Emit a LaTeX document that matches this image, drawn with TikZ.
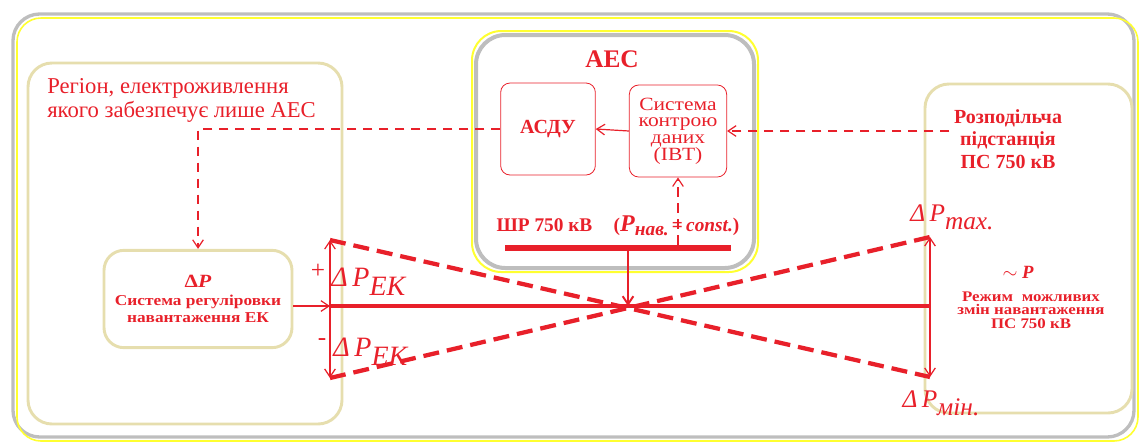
\documentclass[tikz,border=0pt]{standalone}
\usepackage{fontspec}
\setmainfont{Liberation Serif}
\newfontfamily\widefont[FakeStretch=1.15]{Liberation Serif}
\usetikzlibrary{arrows.meta}
\definecolor{aesred}{HTML}{E8202A}
\definecolor{sand}{HTML}{E6DEAE}
\definecolor{frameg}{HTML}{BEBEBE}
\definecolor{framey}{HTML}{FFFF30}
\newcommand{\dP}[1]{\textit{Δ\,P}\raisebox{-.7ex}{\textit{#1}}}

\begin{document}
\begin{tikzpicture}[x=0.75pt,y=-0.75pt,
  every node/.style={text=aesred,align=center},
  sandbox/.style={draw=sand,line width=2.2pt,rounded corners=18pt},
  redbox/.style={draw=aesred,line width=0.6pt,rounded corners=7pt,minimum width=71pt,minimum height=69pt},
  thinline/.style={aesred,line width=0.9pt},
  barb/.style={-{Straight Barb[length=6pt,width=8pt]}},
  link/.style={aesred,line width=0.9pt,dash pattern=on 7pt off 5pt},
  swing/.style={aesred,line width=3.2pt,dash pattern=on 12pt off 6pt}]
\useasboundingbox (0,0) rectangle (1142,444);
% frames
\draw[frameg,line width=2.5pt,rounded corners=20pt] (13,14) rectangle (1134,437);
\draw[framey,line width=1.2pt,rounded corners=18pt] (17,18) rectangle (1138,441);
\draw[sandbox] (28,63) rectangle (342,424);
\draw[sandbox] (925,84) rectangle (1132,413);
\draw[framey,line width=1.5pt,rounded corners=22pt] (472,31) rectangle (758,272);
\draw[frameg,line width=3pt,rounded corners=22pt] (476,35) rectangle (754,268);

\node[anchor=north west,align=left,inner sep=0pt,font=\rmfamily\fontsize{17}{18}\selectfont] (regiontitle) at (47,78) {Регіон, електроживлення\\ якого забезпечує лише АЕС};
\node[sandbox,rounded corners=15pt,minimum width=141pt,minimum height=73pt,font=\widefont\bfseries\fontsize{11.3}{13}\selectfont] (ek) at (198,299) {{\fontsize{14}{14}\selectfont\textbf{Δ}\textit{P}}\\ Система регуліровки\\ навантаження ЕК};
\node[font=\bfseries\fontsize{19}{22}\selectfont] (aestitle) at (612,59) {АЕС};
\node[redbox,font=\bfseries\fontsize{15}{18}\selectfont] (asdu) at (548,129) {АСДУ};
\node[redbox,minimum width=73pt,inner sep=1pt,font=\widefont\fontsize{14}{12.5}\selectfont] (ivt) at (678,131) {Система\\ контрою\\ даних\\ (ІВТ)};
\node[font=\bfseries\fontsize{14.5}{16}\selectfont] (busname) at (618,226) {ШР 750 кВ\hspace{1.1em}(\textit{\fontsize{18}{18}\selectfont P}\raisebox{-.5ex}{\textit{нав.}}\,=\,\textit{const.})};
\node[fill=aesred,inner sep=0pt,minimum width=170pt,minimum height=4.5pt] (bus) at (618,248) {};
\node[font=\bfseries\fontsize{15}{17}\selectfont] (subst) at (1008,139) {Розподільча\\ підстанція\\ ПС 750 кВ};
\node[font=\bfseries\itshape\fontsize{14}{15}\selectfont] (ptilde) at (1018,272) {$\sim$ P};
\node[font=\widefont\bfseries\fontsize{11}{10}\selectfont] (mode) at (1031,310) {Режим\hspace{.6em}можливих\\ змін навантаження\\ ПС 750 кВ};

\coordinate (hub) at (628,306);
\coordinate (ekmid) at (330,306);
\coordinate (pmid) at (930,306);
\coordinate (ekup) at (330,240);
\coordinate (eklow) at (330,378);
\coordinate (pmax) at (930,237);
\coordinate (pmin) at (930,377);

\node[font=\fontsize{19}{18}\selectfont] (plus) at (318,271) {+};
\node[font=\fontsize{19}{18}\selectfont] (minus) at (322,342) {-};
\node[font=\fontsize{21}{22}\selectfont] (ekplus) at (369,282) {\dP{EK}};
\node[font=\fontsize{21}{22}\selectfont] (ekminus) at (371,352) {\dP{EK}};
\node[font=\fontsize{19}{20}\selectfont] (maxlabel) at (952,217) {\dP{max.}};
\node[font=\fontsize{19}{20}\selectfont] (minlabel) at (941,403) {\dP{мін.}};

\draw[link,barb] (asdu.west) -| (ek.north); \draw[thinline,barb] (ivt.west) -- (asdu.east); \draw[link,barb] (subst.west |- ivt.east) -- (ivt.east); \draw[link,barb] (bus.north -| ivt.south) -- (ivt.south); \draw[thinline,line width=1.5pt,barb] (bus.south -| hub) -- (hub); \draw[thinline,barb] (ek.east |- ekmid) -- (ekmid); \draw[aesred,line width=3pt] (ekmid) -- (pmid); \draw[thinline,{Straight Barb[length=6pt,width=8pt]}-{Straight Barb[length=6pt,width=8pt]}] (ekup) -- (eklow); \draw[thinline,{Straight Barb[length=6pt,width=8pt]}-{Straight Barb[length=6pt,width=8pt]}] (pmax) -- (pmin); \draw[swing] (ekup) -- (pmin); \draw[swing] (eklow) -- (pmax);
\end{tikzpicture}
\end{document}
